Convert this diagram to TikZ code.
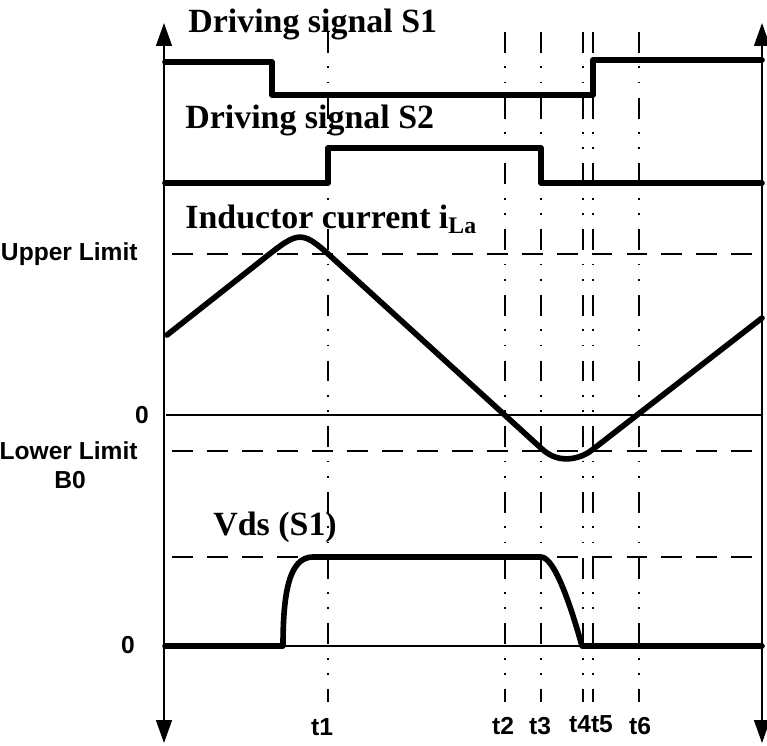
\documentclass[tikz,border=0pt]{standalone}
\usepackage{fontspec}
\setmainfont{Liberation Serif}
\setsansfont{Liberation Sans}
\usetikzlibrary{arrows.meta}

\tikzset{
  wave/.style={line width=3.2pt, line cap=round, line join=round},
  lim/.style={line width=1.1pt, dash pattern=on 11.9pt off 8pt},
  tline/.style={line width=1.2pt, dash pattern=on 11.9pt off 7.7pt on 1pt off 7.7pt on 1pt off 8.1pt},
  axis/.style={line width=1pt, {Triangle[length=13pt,width=9pt]}-{Triangle[length=13pt,width=9pt]}},
  ttl/.style={anchor=base west, inner sep=0pt, font=\bfseries\fontsize{19.3}{19}\selectfont},
  lbl/.style={inner sep=0pt, font=\sffamily\bfseries\fontsize{14}{14}\selectfont}
}

\begin{document}
\begin{tikzpicture}[x=0.02cm, y=-0.02cm]
\useasboundingbox (0,0) rectangle (767,745);
\coordinate (LT) at (164,23);
\coordinate (LB) at (164,743);
\coordinate (RT) at (762,23);
\coordinate (RB) at (762,743);
\draw[axis] (LB)--(LT);
\draw[axis] (RB)--(RT);
\draw[lim] (172,254)--(762,254);
\draw[lim] (172,451)--(762,451);
\draw[lim] (172,557)--(762,557);
\draw[line width=1.3pt] (166,415)--(762,415);
\draw[line width=1pt] (166,646)--(762,646);
\draw[tline] (328,32)--(328,702);
\draw[tline] (505,32)--(505,702);
\draw[tline] (541,32)--(541,702);
\draw[tline] (583,32)--(583,702);
\draw[tline] (593,32)--(593,702);
\draw[tline] (639,32)--(639,702);
\draw[wave] (165,62)--(272,62)--(272,95)--(593,95)--(593,60)--(762,60);
\draw[wave] (165,183)--(328,183)--(328,148)--(541,148)--(541,183)--(762,183);
\draw[wave] (167,335)--(262,260) .. controls (301,229) .. (338,263)--(542,449)
  .. controls (560.5,466) and (582.6,457.4) .. (592,450)--(762,318);
\draw[wave] (165,646)--(283,646) .. controls (283,590) and (290,557) .. (313,557)--(541,557)
  .. controls (555,557) and (572,610) .. (582,646)--(762,646);
\node[ttl] (S1) at (188,32){Driving signal S1};
\node[ttl] (S2) at (185,128){Driving signal S2};
\node[ttl] (IL) at (185,228){Inductor current i\textsubscript{La}};
\node[ttl] (VDS) at (213,535){Vds (S1)};
\node[lbl, anchor=east] (UL) at (138,254){Upper Limit};
\node[lbl] (Z1) at (142,415){0};
\node[lbl, anchor=east] (LL) at (138,451){Lower Limit};
\node[lbl] (B0) at (70,480){B0};
\node[lbl] (Z2) at (128,645){0};
\node[lbl] (T1) at (322,727){t1};
\node[lbl] (T2) at (503,726){t2};
\node[lbl] (T3) at (540,726){t3};
\node[lbl] (T45) at (591,724){t4t5};
\node[lbl] (T6) at (640,726){t6};
\end{tikzpicture}
\end{document}
